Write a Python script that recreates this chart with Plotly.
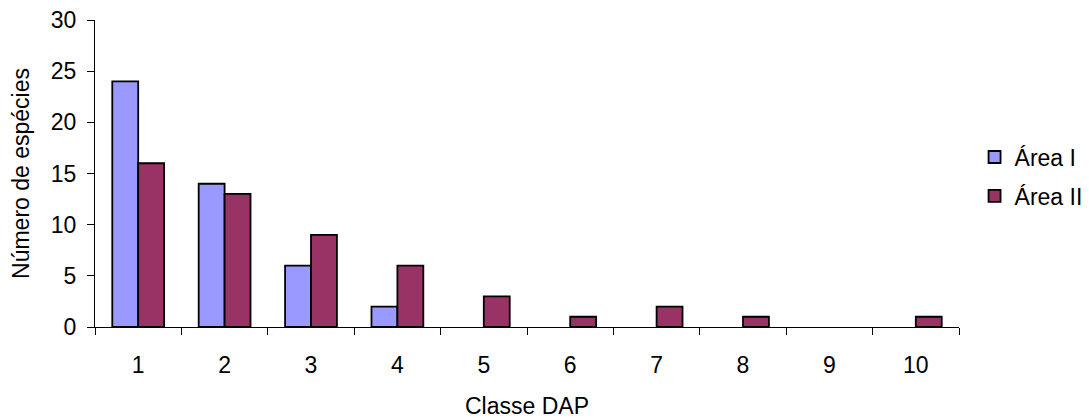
import plotly.graph_objects as go

categories = ["1", "2", "3", "4", "5", "6", "7", "8", "9", "10"]
area_i = [24, 14, 6, 2, 0, 0, 0, 0, 0, 0]
area_ii = [16, 13, 9, 6, 3, 1, 2, 1, 0, 1]
y_ticks = [0, 5, 10, 15, 20, 25, 30]

FONT = "Liberation Sans, Arial, sans-serif"
FS = 23


def hide_zero(vals):
    return [v if v != 0 else None for v in vals]


fig = go.Figure()
fig.add_trace(go.Bar(x=categories, y=hide_zero(area_i), name="Área I",
                     marker=dict(color="#9999FF", line=dict(color="black", width=1.8)),
                     legendgroup="a"))
fig.add_trace(go.Bar(x=categories, y=hide_zero(area_ii), name="Área II",
                     marker=dict(color="#993366", line=dict(color="black", width=1.8)),
                     legendgroup="b"))

fig.update_layout(
    width=1089, height=419,
    margin=dict(l=95, r=130, t=20, b=92, autoexpand=False),
    paper_bgcolor="white", plot_bgcolor="white",
    font=dict(family=FONT, size=FS, color="black"),
    barmode="group", bargap=0.4, bargroupgap=0,
    legend=dict(x=1.018, xanchor="left", y=0.49, yanchor="middle",
                font=dict(size=FS), traceorder="grouped", tracegroupgap=6,
                bgcolor="rgba(0,0,0,0)"),
    xaxis=dict(type="category", showline=True, linecolor="black", linewidth=1,
               ticks="outside", ticklen=7, tickcolor="black", tickson="boundaries",
               ticklabelstandoff=17, showgrid=False, automargin=False,
               tickfont=dict(size=FS),
               title=dict(text="Classe DAP", standoff=24, font=dict(size=FS))),
    yaxis=dict(range=[0, 30], tickvals=y_ticks, showline=True, linecolor="black",
               linewidth=1, ticks="outside", ticklen=7, tickcolor="black",
               ticklabelstandoff=6,
               showgrid=False, zeroline=False, automargin=False,
               tickfont=dict(size=FS),
               title=dict(text="Número de espécies", standoff=14, font=dict(size=FS))),
)

fig.write_html("out.html", config={"displayModeBar": False},
               post_script="document.body.style.margin='0';")
